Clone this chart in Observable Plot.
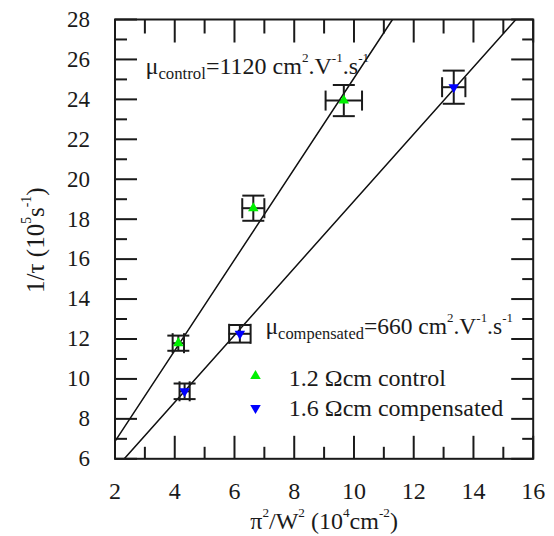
<!DOCTYPE html>
<html>
<head>
<meta charset="utf-8">
<script src="https://cdn.jsdelivr.net/npm/d3@7"></script>
<script src="https://cdn.jsdelivr.net/npm/@observablehq/plot@0.6"></script>
<style>
  html, body { margin: 0; padding: 0; background: #ffffff; }
  #chart svg, #chart svg text, #chart svg tspan {
    font-family: "Liberation Serif", "Times New Roman", Times, "DejaVu Serif", serif !important;
  }
</style>
</head>
<body>
<div id="chart"></div>
<script>
// ---------- data ----------
const controlX    = [4.12, 6.63, 9.66];
const controlY    = [11.79, 18.55, 23.94];
const controlXErr = [0.19, 0.37, 0.61];
const controlYErr = [0.38, 0.63, 0.78];

const compX    = [4.33, 6.18, 13.34];
const compY    = [9.38, 12.26, 24.61];
const compXErr = [0.17, 0.36, 0.39];
const compYErr = [0.39, 0.44, 0.83];

// fitted straight lines: end points read where they meet the frame
const controlFitX = [2, 11.29];
const controlFitY = [6.87, 28];
const compFitX = [2.31, 15.42];
const compFitY = [6, 28];

const xMajor = [2, 4, 6, 8, 10, 12, 14, 16];
const xMinor = [3, 5, 7, 9, 11, 13, 15];
const yMajor = [6, 8, 10, 12, 14, 16, 18, 20, 22, 24, 26, 28];
const yMinor = [7, 9, 11, 13, 15, 17, 19, 21, 23, 25, 27];

const seriesNames = ["1.2 Ωcm control", "1.6 Ωcm compensated"];
const muControlLabel = "μ_{control}=1120 cm^{2}.V^{-1}.s^{-1}";
const muCompLabel = "μ_{compensated}=660 cm^{2}.V^{-1}.s^{-1}";
const xLabel = "π^{2}/W^{2} (10^{4}cm^{-2})";
const yLabel = "1/τ (10^{5}s^{-1})";

// ---------- tables built from the arrays ----------
const points = [
  ...controlX.map((x, i) => ({series: "control", x, y: controlY[i], xe: controlXErr[i], ye: controlYErr[i]})),
  ...compX.map((x, i) => ({series: "compensated", x, y: compY[i], xe: compXErr[i], ye: compYErr[i]}))
];
const fits = [
  ...controlFitX.map((x, i) => ({series: "control", x, y: controlFitY[i]})),
  ...compFitX.map((x, i) => ({series: "compensated", x, y: compFitY[i]}))
];

// ---------- custom symbols ----------
const seg = (a, b, c, d) => ({
  draw(ctx, size) {
    const r = Math.sqrt(size / Math.PI);
    ctx.moveTo(a * r, b * r);
    ctx.lineTo(c * r, d * r);
  }
});
const hBar = seg(-1, 0, 1, 0);
const vBar = seg(0, -1, 0, 1);
const tickUp = seg(0, 0, 0, -1);
const tickDown = seg(0, 0, 0, 1);
const tickRight = seg(0, 0, 1, 0);
const tickLeft = seg(0, 0, -1, 0);
const triUp = {
  draw(ctx, size) {
    const s3 = Math.sqrt(3);
    const y = -Math.sqrt(size / (s3 * 3));
    ctx.moveTo(0, y * 2);
    ctx.lineTo(-s3 * y, -y);
    ctx.lineTo(s3 * y, -y);
    ctx.closePath();
  }
};
const triDown = {
  draw(ctx, size) {
    const s3 = Math.sqrt(3);
    const y = Math.sqrt(size / (s3 * 3));
    ctx.moveTo(0, y * 2);
    ctx.lineTo(-s3 * y, -y);
    ctx.lineTo(s3 * y, -y);
    ctx.closePath();
  }
};

const GREEN = "#00f000";
const BLUE = "#0000ff";
const FONT = "Liberation Serif, Times New Roman, Times, DejaVu Serif, serif";
const tickStyle = {stroke: "#1a1a1a", strokeWidth: 2, fill: "none"};
const MAJ = 23, MIN = 12;

const chart = Plot.plot({
  width: 554,
  height: 536,
  marginLeft: 114.5,
  marginRight: 21.3,
  marginTop: 19,
  marginBottom: 77.7,
  style: {fontFamily: FONT, fontSize: "23px", background: "#ffffff", color: "#1a1a1a"},
  x: {domain: [2, 16]},
  y: {domain: [6, 28]},
  marks: [
    // axes (labels only, ticks drawn inside below)
    Plot.axisY(yMajor, {tickSize: 0, tickPadding: 25, fontSize: 23, label: null}),
    Plot.axisX(xMajor, {tickSize: 0, tickPadding: 23, fontSize: 24, label: null}),
    // inward ticks
    Plot.dot(xMajor, {x: d => d, frameAnchor: "bottom", symbol: tickUp, r: MAJ, ...tickStyle}),
    Plot.dot(xMinor, {x: d => d, frameAnchor: "bottom", symbol: tickUp, r: MIN, ...tickStyle}),
    Plot.dot(xMajor, {x: d => d, frameAnchor: "top", symbol: tickDown, r: MAJ, ...tickStyle}),
    Plot.dot(xMinor, {x: d => d, frameAnchor: "top", symbol: tickDown, r: 14, ...tickStyle}),
    Plot.dot(yMajor, {y: d => d, frameAnchor: "left", symbol: tickRight, r: MAJ - 1, ...tickStyle}),
    Plot.dot(yMinor, {y: d => d, frameAnchor: "left", symbol: tickRight, r: MIN, ...tickStyle}),
    Plot.dot(yMajor, {y: d => d, frameAnchor: "right", symbol: tickLeft, r: MAJ - 1, ...tickStyle}),
    Plot.dot(yMinor, {y: d => d, frameAnchor: "right", symbol: tickLeft, r: 11, ...tickStyle}),
    // fit lines
    Plot.line(fits, {x: "x", y: "y", z: "series", stroke: "#111", strokeWidth: 1.5, clip: true}),
    // error bars
    Plot.ruleX(points, {x: "x", y1: d => d.y - d.ye, y2: d => d.y + d.ye, stroke: "#1a1a1a", strokeWidth: 2}),
    Plot.ruleY(points, {y: "y", x1: d => d.x - d.xe, x2: d => d.x + d.xe, stroke: "#1a1a1a", strokeWidth: 2}),
    Plot.dot(points, {x: "x", y: d => d.y - d.ye, symbol: hBar, r: 11, ...tickStyle}),
    Plot.dot(points, {x: "x", y: d => d.y + d.ye, symbol: hBar, r: 11, ...tickStyle}),
    Plot.dot(points, {x: d => d.x - d.xe, y: "y", symbol: vBar, r: 10, ...tickStyle}),
    Plot.dot(points, {x: d => d.x + d.xe, y: "y", symbol: vBar, r: 10, ...tickStyle}),
    // markers
    Plot.dot(points.filter(d => d.series === "control"), {x: "x", y: "y", symbol: triUp, r: 3.9, fill: GREEN, stroke: "none"}),
    Plot.dot(points.filter(d => d.series === "compensated"), {x: "x", y: "y", symbol: triDown, r: 3.9, fill: BLUE, stroke: "none"}),
    // frame
    Plot.frame({stroke: "#1a1a1a", strokeWidth: 2}),
    // annotations
    Plot.text([muControlLabel], {text: d => d, frameAnchor: "top-left", dx: 30.5, dy: 54.3, textAnchor: "start", lineAnchor: "bottom", fontSize: 24, fontFamily: FONT, fill: "#1a1a1a"}),
    Plot.text([muCompLabel], {text: d => d, frameAnchor: "top-left", dx: 150.5, dy: 314.3, textAnchor: "start", lineAnchor: "bottom", fontSize: 23.5, fontFamily: FONT, fill: "#1a1a1a"}),
    // legend
    Plot.dot([seriesNames[0]], {frameAnchor: "top-left", dx: 140.5, dy: 356.5, symbol: triUp, r: 3.9, fill: GREEN, stroke: "none"}),
    Plot.dot([seriesNames[1]], {frameAnchor: "top-left", dx: 140.5, dy: 388.5, symbol: triDown, r: 3.9, fill: BLUE, stroke: "none"}),
    Plot.text([seriesNames[0]], {text: d => d, frameAnchor: "top-left", dx: 173.8, dy: 366, textAnchor: "start", lineAnchor: "bottom", fontSize: 24, fontFamily: FONT, fill: "#1a1a1a"}),
    Plot.text([seriesNames[1]], {text: d => d, frameAnchor: "top-left", dx: 173.8, dy: 396, textAnchor: "start", lineAnchor: "bottom", fontSize: 24, fontFamily: FONT, fill: "#1a1a1a"}),
    // axis titles
    Plot.text([xLabel], {text: d => d, frameAnchor: "bottom", dy: 70.5, textAnchor: "middle", lineAnchor: "bottom", fontSize: 24, fontFamily: FONT, fill: "#1a1a1a"}),
    Plot.text([yLabel], {text: d => d, frameAnchor: "left", dx: -71.5, dy: 1, rotate: -90, textAnchor: "middle", lineAnchor: "bottom", fontSize: 25, fontFamily: FONT, fill: "#1a1a1a"})
  ]
});

document.getElementById("chart").appendChild(chart);

// turn ^{..} and _{..} markup into real superscript / subscript tspans
const NS = "http://www.w3.org/2000/svg";
chart.querySelectorAll("text").forEach(t => {
  const s = t.textContent;
  if (!/[_^]\{/.test(s)) return;
  const fs = parseFloat(getComputedStyle(t).fontSize) || 24;
  const re = /([_^])\{([^}]*)\}|([^_^]+)/g;
  let m, cur = 0;
  while (t.firstChild) t.removeChild(t.firstChild);
  while ((m = re.exec(s))) {
    const ts = document.createElementNS(NS, "tspan");
    let off = 0, size = fs;
    if (m[1] === "^") { off = -0.5 * fs; size = 0.55 * fs; ts.textContent = m[2]; }
    else if (m[1] === "_") { off = 0.2 * fs; size = 0.7 * fs; ts.textContent = m[2]; }
    else { ts.textContent = m[3]; }
    ts.setAttribute("font-size", size.toFixed(2));
    const dy = off - cur;
    if (dy !== 0) ts.setAttribute("dy", dy.toFixed(2));
    cur = off;
    t.appendChild(ts);
  }
});
</script>
</body>
</html>
